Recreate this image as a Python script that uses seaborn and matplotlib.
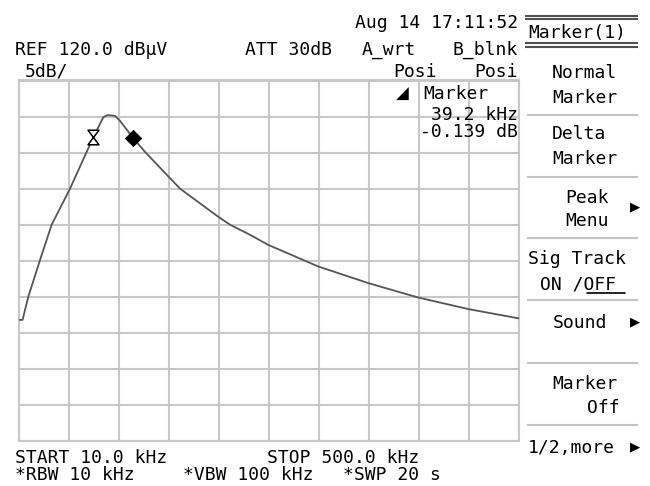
import numpy as np
import pandas as pd
import matplotlib
matplotlib.use("Agg")
import matplotlib.pyplot as plt
from matplotlib.path import Path
import seaborn as sns

freq_khz = [10.0, 13.5, 19.1, 30.6, 42.0, 60.0, 76.3, 82.8, 92.6, 96.5, 104.1,
            109.0, 122.0, 133.5, 156.3, 167.8, 205.3, 216.8, 236.4, 254.3,
            288.6, 303.4, 352.3, 401.3, 450.3, 500.0]
level_dbuv = [86.8, 86.8, 90.0, 95.1, 100.0, 105.0, 110.1, 112.1, 114.9, 115.2,
              115.1, 114.4, 112.0, 110.1, 106.7, 105.0, 101.1, 100.0, 98.6,
              97.2, 95.1, 94.2, 91.9, 89.9, 88.3, 87.0]
ref_marker_freq = [82.8]
ref_marker_level = [112.1]
delta_marker_freq = [122.0]
delta_marker_level = [112.0]
start_khz, stop_khz = 10.0, 500.0
ref_level, db_per_div, n_div = 120.0, 5.0, 10

df = pd.DataFrame({"freq": freq_khz, "level": level_dbuv})

sns.set_style("white")
plt.rcParams["font.family"] = ["DejaVu Sans Mono", "DejaVu Sans"]

W, H = 650, 486
fig = plt.figure(figsize=(W / 100, H / 100), dpi=100)
fig.patch.set_facecolor("white")

# data axes
L, R, T, B = 19, 519, 80.5, 441
ax = fig.add_axes([L / W, 1 - B / H, (R - L) / W, (B - T) / H])
ax.set_facecolor("white")
grid_col = "#c8c8c8"
sns.lineplot(data=df, x="freq", y="level", ax=ax, color="#555555", lw=1.3, zorder=3)
ax.set_xlim(start_khz, stop_khz)
ax.set_ylim(ref_level - n_div * db_per_div, ref_level)
ax.set_xticks(np.linspace(start_khz, stop_khz, n_div + 1))
ax.set_yticks(np.linspace(ref_level - n_div * db_per_div, ref_level, n_div + 1))
ax.grid(True, color=grid_col, lw=1.5)
ax.tick_params(length=0, labelbottom=False, labelleft=False)
ax.set_xlabel("")
ax.set_ylabel("")
for s in ax.spines.values():
    s.set_color(grid_col)
    s.set_linewidth(1.5)

hourglass = Path([(-0.75, 1), (0.75, 1), (-0.75, -1), (0.75, -1), (-0.75, 1)],
                 [Path.MOVETO, Path.LINETO, Path.LINETO, Path.LINETO, Path.CLOSEPOLY])
sns.scatterplot(x=ref_marker_freq, y=ref_marker_level, ax=ax, marker=hourglass,
                s=110, facecolor="white", edgecolor="black", linewidth=1.1, zorder=5)
sns.scatterplot(x=delta_marker_freq, y=delta_marker_level, ax=ax, marker="D",
                s=70, color="black", edgecolor="black", linewidth=0.5, zorder=5)

# overlay in pixel coordinates for the instrument annotations (on top)
ov = fig.add_axes([0, 0, 1, 1])
ov.set_xlim(0, W)
ov.set_ylim(H, 0)
ov.axis("off")
ov.patch.set_visible(False)
ov.set_zorder(10)

fs = 13
def txt(x, y, s, ha="left", size=fs, **kw):
    ov.text(x, y, s, ha=ha, va="baseline", fontsize=size, color="black", **kw)

# header
txt(518, 28, "Aug 14 17:11:52", ha="right")
txt(15, 55, "REF 120.0 dB\u00b5V")
txt(245, 55, "ATT 30dB")
txt(362, 55, "A_wrt")
txt(518, 55, "B_blnk", ha="right")
txt(25, 77, "5dB/")
txt(437, 77, "Posi", ha="right")
txt(518, 77, "Posi", ha="right")

# delta marker readout
ov.text(396, 99, "\u25e2", fontsize=12, color="black", va="baseline",
        family=["DejaVu Sans"])
txt(423, 99, "Marker")
txt(518, 120, f"{delta_marker_freq[0] - ref_marker_freq[0]:.1f} kHz", ha="right")
txt(518, 137, "-0.139 dB", ha="right")

# footer
txt(15, 463, f"START {start_khz:.1f} kHz")
txt(267, 463, f"STOP {stop_khz:.1f} kHz")
txt(15, 480, "*RBW 10 kHz")
txt(183, 480, "*VBW 100 kHz")
txt(343, 480, "*SWP 20 s")

# soft-key menu
dark = "#505050"
for y in (15.8, 19.2, 42.8, 47.0):
    ov.plot([525, 638], [y, y], color=dark, lw=1.5, solid_capstyle="butt")
txt(528, 38, "Marker(1)")
for y in (115, 177, 238, 300, 363, 425):
    ov.plot([527, 638], [y, y], color="#c4c4c4", lw=1.5, solid_capstyle="butt")

txt(552, 78, "Normal")
txt(552, 103, "Marker")
txt(552, 139, "Delta")
txt(552, 164, "Marker")
txt(565, 203, "Peak")
txt(565, 226, "Menu")
txt(528, 264, "Sig Track")
txt(540, 289, "ON /OFF")
ov.plot([587, 625], [292.5, 292.5], color="black", lw=1.2)
txt(553, 328, "Sound")
txt(552, 389, "Marker")
txt(620, 413, "Off", ha="right")
txt(528, 453, "1/2,more")

for y in (207, 322, 447):
    ov.text(635, y, "\u25b6", fontsize=9.5, ha="center", va="center",
            color="black", family=["DejaVu Sans"])

fig.savefig("out.png", dpi=100, facecolor="white")
